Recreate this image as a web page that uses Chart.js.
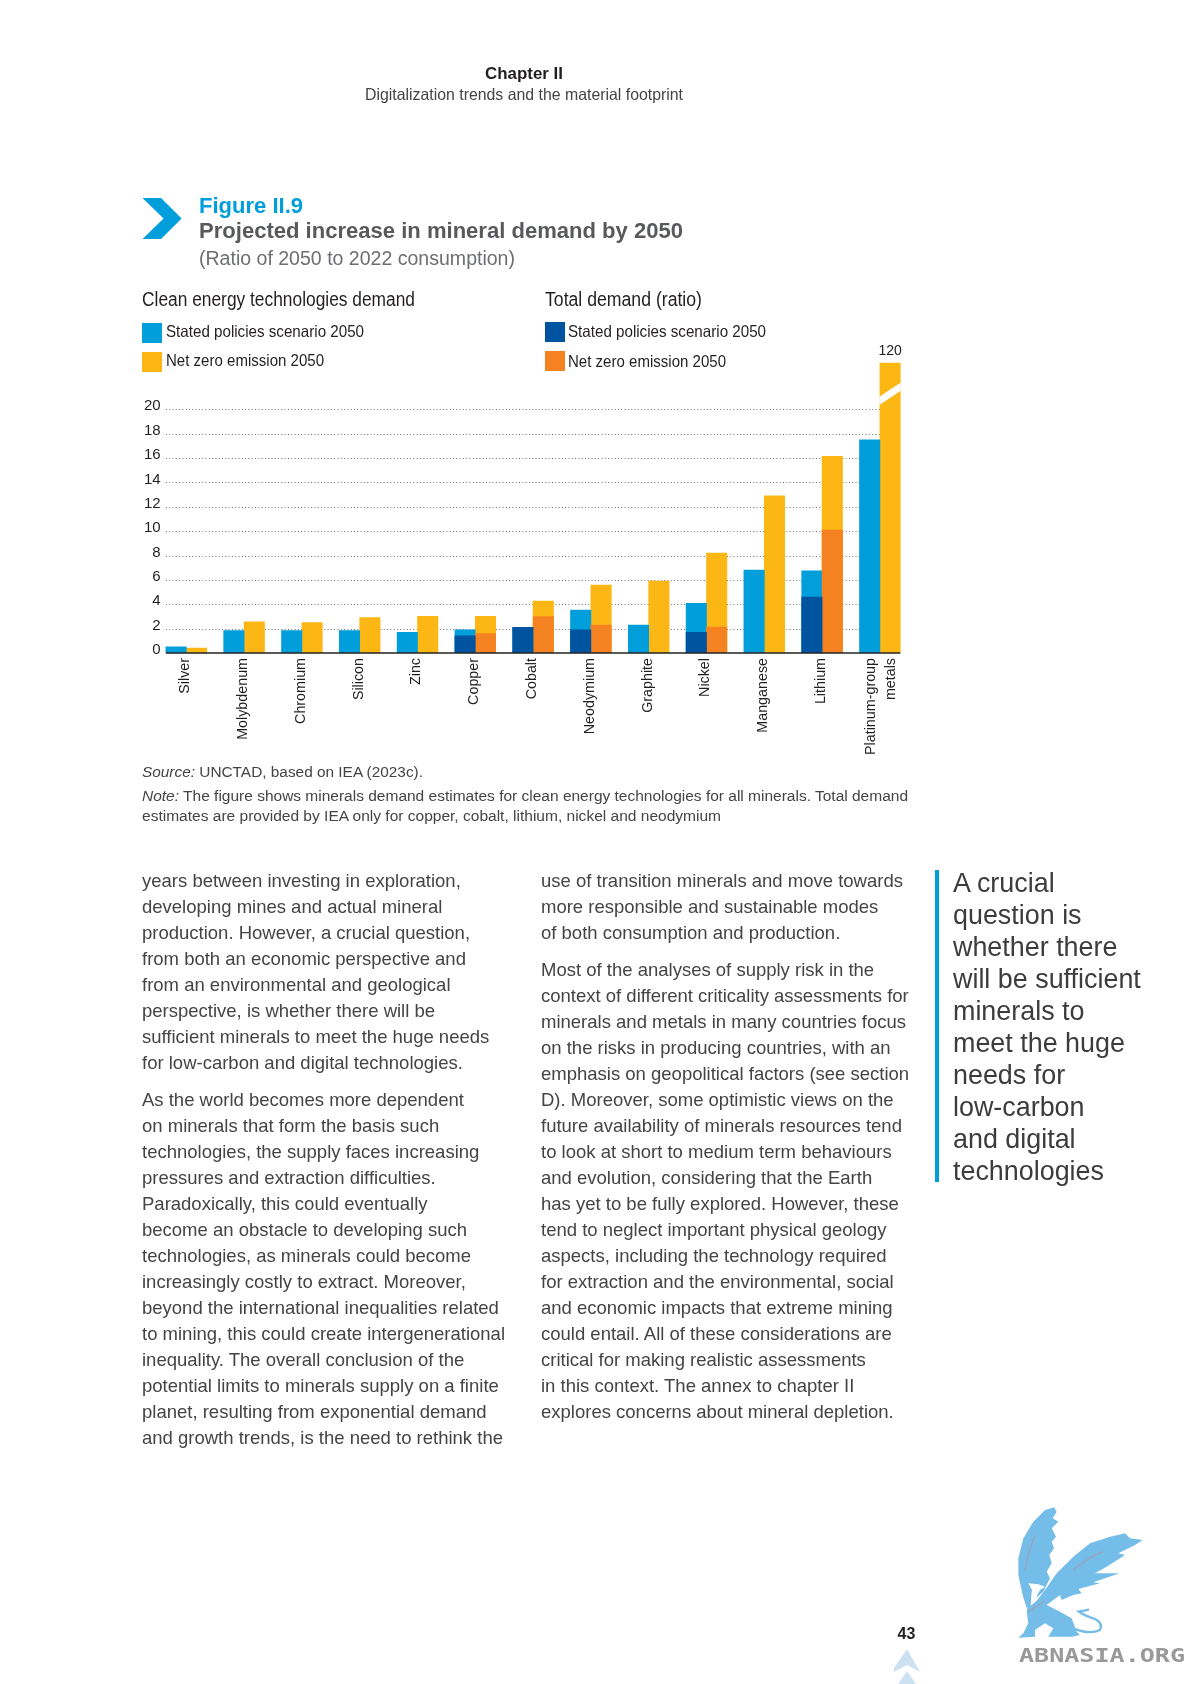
<!DOCTYPE html>
<html><head><meta charset="utf-8">
<script src="https://cdn.jsdelivr.net/npm/chart.js@4"></script>
<style>
html,body{margin:0;padding:0;background:#fff;width:1191px;height:1684px;overflow:hidden}
#page{position:relative;width:1191px;height:1684px;font-family:"Liberation Sans",Arial,sans-serif}
#c{position:absolute;left:0;top:0;width:1191px;height:1684px}
.t{position:absolute;white-space:nowrap;line-height:1;transform-origin:left center}
.s{position:absolute}
</style></head><body>
<div id="page">
<canvas id="c" width="1191" height="1684"></canvas>
<svg class="s" style="left:0;top:0" width="1191" height="1684">
<polygon points="142.5,198 161,198 181.6,218.5 161,239 142.5,239 163.6,218.5" fill="#009edb"/>
<g transform="translate(1010 1495) scale(.33333)">
<g fill="#74bde8">
<polygon points="132,37 140,50 128,70 145,80 125,100 138,125 125,140 132,160 118,180 125,205 110,230 120,250 100,290 65,320 50,340 38,300 25,240 25,190 40,130 70,80 105,45"/>
<polygon points="398,135 360,130 345,115 300,125 240,145 190,185 140,235 105,285 70,330 50,350 110,330 150,300 155,315 190,300 215,295 205,282 270,265 250,262 285,250 328,235 255,235 290,215 345,180 325,175 375,150"/>
<polygon points="75,320 100,320 110,330 150,350 185,370 200,410 210,420 185,425 115,425 130,400 105,385 75,405 75,425 25,428 40,415 55,385 50,350 55,325"/>
<path d="M190 400 Q240 420 270 405 Q280 385 255 372 Q225 362 207 350 L237 344" fill="none" stroke="#74bde8" stroke-width="7"/>
</g>
<polygon points="55,265 85,268 105,275 90,285 82,300 75,322 62,332 64,300 66,285" fill="#fff"/>
<g fill="none" stroke="#9aa3bd" stroke-width="4">
<path d="M75 120 Q55 170 45 225"/><path d="M280 170 Q230 190 190 225"/><path d="M105 318 L55 350"/>
</g>
</g>
<g fill="#cde1f3">
<polygon points="907,1649 920,1672 907,1665 894,1672 894,1668"/>
<polygon points="907,1671 920,1690 894,1690"/>
</g>
<rect x="935" y="870" width="4" height="312" fill="#009edb"/>
<rect x="142" y="323" width="20" height="20" fill="#009edb"/>
<rect x="142" y="352" width="20" height="20" fill="#fdb714"/>
<rect x="545" y="322" width="20" height="20" fill="#00539f"/>
<rect x="545" y="351" width="20" height="20" fill="#f58220"/>
</svg>
</div>
<script>
const categories=["Silver","Molybdenum","Chromium","Silicon","Zinc","Copper","Cobalt","Neodymium","Graphite","Nickel","Manganese","Lithium",["Platinum-group","metals"]];
const cleanStated=[0.5,1.85,1.85,1.85,1.7,1.9,2.1,3.53,2.3,4.08,6.8,6.75,17.5];
const totalStated=[null,null,null,null,null,1.4,2.1,1.9,null,1.7,null,4.6,null];
const cleanNetZero=[0.4,2.55,2.5,2.9,3.0,3.0,4.27,5.58,5.9,8.2,12.9,16.15,120];
const totalNetZero=[null,null,null,null,null,1.6,2.98,2.3,null,2.13,null,10.1,null];
const yTickMax=20, yStep=2, yTopShown=23.83;
const bodyCol1a=["years between investing in exploration,","developing mines and actual mineral","production. However, a crucial question,","from both an economic perspective and","from an environmental and geological","perspective, is whether there will be","sufficient minerals to meet the huge needs","for low-carbon and digital technologies."];
const bodyCol1b=["As the world becomes more dependent","on minerals that form the basis such","technologies, the supply faces increasing","pressures and extraction difficulties.","Paradoxically, this could eventually","become an obstacle to developing such","technologies, as minerals could become","increasingly costly to extract. Moreover,","beyond the international inequalities related","to mining, this could create intergenerational","inequality. The overall conclusion of the","potential limits to minerals supply on a finite","planet, resulting from exponential demand","and growth trends, is the need to rethink the"];
const bodyCol2a=["use of transition minerals and move towards","more responsible and sustainable modes","of both consumption and production."];
const bodyCol2b=["Most of the analyses of supply risk in the","context of different criticality assessments for","minerals and metals in many countries focus","on the risks in producing countries, with an","emphasis on geopolitical factors (see section","D). Moreover, some optimistic views on the","future availability of minerals resources tend","to look at short to medium term behaviours","and evolution, considering that the Earth","has yet to be fully explored. However, these","tend to neglect important physical geology","aspects, including the technology required","for extraction and the environmental, social","and economic impacts that extreme mining","could entail. All of these considerations are","critical for making realistic assessments","in this context. The annex to chapter II","explores concerns about mineral depletion."];
const sidebar=["A crucial","question is","whether there","will be sufficient","minerals to","meet the huge","needs for","low-carbon","and digital","technologies"];

const page=document.getElementById('page');
function t(x,yc,str,size,color,o){o=o||{};
 const e=document.createElement('div');e.className='t';
 if(o.html)e.innerHTML=str;else e.textContent=str;
 e.style.left=x+'px';e.style.top=(yc-size/2)+'px';e.style.fontSize=size+'px';e.style.color=color;
 if(o.weight)e.style.fontWeight=o.weight;
 if(o.family)e.style.fontFamily=o.family;
 page.appendChild(e);
 if(o.w){const m=e.getBoundingClientRect().width;e.style.transform='scaleX('+(o.w/m)+')';}
 return e;}
t(485,73.5,"Chapter II",16.5,"#231f20",{weight:700,w:78});
t(365,94.5,"Digitalization trends and the material footprint",16.5,"#444",{w:318});
t(199,205.5,"Figure II.9",22,"#009edb",{weight:700,w:104});
t(199,231,"Projected increase in mineral demand by 2050",22.5,"#58595b",{weight:700,w:484});
t(199,258,"(Ratio of 2050 to 2022 consumption)",20,"#6d6e71",{w:316});
t(142,299.5,"Clean energy technologies demand",19.5,"#231f20",{w:273});
t(545,299.5,"Total demand (ratio)",19.5,"#231f20",{w:157});
t(166,331.5,"Stated policies scenario 2050",16.5,"#231f20",{w:198});
t(166,360.5,"Net zero emission 2050",16.5,"#231f20",{w:158});
t(568,331.5,"Stated policies scenario 2050",16.5,"#231f20",{w:198});
t(568,361.5,"Net zero emission 2050",16.5,"#231f20",{w:158});
t(142,771.5,"<i>Source:</i> UNCTAD, based on IEA (2023c).",15.5,"#444",{html:true,w:281});
t(142,796,"<i>Note:</i> The figure shows minerals demand estimates for clean energy technologies for all minerals. Total demand",15.5,"#444",{html:true,w:766});
t(142,816,"estimates are provided by IEA only for copper, cobalt, lithium, nickel and neodymium",15.5,"#444",{w:579});
function block(x,y0,lines,size,lh,color){lines.forEach((l,i)=>t(x,y0+i*lh,l,size,color));}
block(142,881.5,bodyCol1a,18.5,26,"#444");
block(142,1100.5,bodyCol1b,18.5,26,"#444");
block(541,881.5,bodyCol2a,18.5,26,"#444");
block(541,970,bodyCol2b,18.5,26,"#444");
block(953,883,sidebar,26.9,32,"#3c3c3c");
t(897.5,1634,"43",16,"#231f20",{weight:700});
t(1019,1655,"ABNASIA.ORG",20,"#999",{weight:700,family:"'DejaVu Sans Mono',monospace",w:166});

const overlay={id:'overlay',
 beforeDatasetsDraw(ch){const c=ch.ctx,y=ch.scales.y,x=ch.scales.x;
  const bar=ch.getDatasetMeta(0).data[0],l=bar.x-bar.width/2,r=x.getPixelForValue(12);
  c.save();c.strokeStyle='#6f6f6f';c.lineWidth=1;c.setLineDash([1,2.3]);
  y.ticks.forEach(k=>{if(k.value===0)return;const p=Math.round(y.getPixelForValue(k.value))+.5;c.beginPath();c.moveTo(l,p);c.lineTo(r,p);c.stroke();});
  c.restore();},
 afterDatasetsDraw(ch){const c=ch.ctx,y=ch.scales.y,x=ch.scales.x;
  const bar=ch.getDatasetMeta(2).data[12],bl=bar.x-bar.width/2,br=bar.x+bar.width/2;
  c.save();c.fillStyle='#fff';c.beginPath();
  c.moveTo(bl-.5,y.getPixelForValue(21.04));c.lineTo(br+.5,y.getPixelForValue(22.2));
  c.lineTo(br+.5,y.getPixelForValue(21.53));c.lineTo(bl-.5,y.getPixelForValue(20.36));c.closePath();c.fill();
  const f=ch.getDatasetMeta(0).data[0],l=f.x-f.width/2,z=y.getPixelForValue(0);
  c.strokeStyle='#222';c.lineWidth=1.6;c.beginPath();c.moveTo(l,z);c.lineTo(br,z);c.stroke();
  c.fillStyle='#231f20';c.font='14px "Liberation Sans"';c.textAlign='center';c.textBaseline='middle';
  c.fillText(String(cleanNetZero[12]),bar.x,351);
  c.restore();}
};
const base={barThickness:20.4,borderWidth:0};
new Chart(document.getElementById('c'),{type:'bar',
 data:{labels:categories,datasets:[
  {...base,label:'Clean energy: Stated policies scenario 2050',data:cleanStated,backgroundColor:'#009edb',stack:'a',order:2},
  {...base,label:'Total demand: Stated policies scenario 2050',data:totalStated,backgroundColor:'#00539f',stack:'a',order:0},
  {...base,label:'Clean energy: Net zero emission 2050',data:cleanNetZero,backgroundColor:'#fdb714',stack:'b',order:3},
  {...base,label:'Total demand: Net zero emission 2050',data:totalNetZero,backgroundColor:'#f58220',stack:'b',order:1}]},
 options:{responsive:false,animation:false,devicePixelRatio:1,
  layout:{padding:{left:157.4,right:282.2,top:362.7,bottom:0}},
  plugins:{legend:{display:false},tooltip:{enabled:false},title:{display:false}},
  scales:{
   x:{grid:{display:false,drawTicks:false},border:{display:false},
      afterFit(s){s.height=1031;
        if(!s._twoLinePatched){s._twoLinePatched=true;const orig=s.getPixelForTick.bind(s);
          s.getPixelForTick=i=>orig(i)+(Array.isArray(categories[i])?-8.2:0);}},
      ticks:{autoSkip:false,minRotation:90,maxRotation:90,padding:5,labelOffset:-1,color:'#231f20',font:{size:14.3,family:'"Liberation Sans"',lineHeight:1.45}}},
   y:{position:{x:-0.443},stacked:false,min:0,max:yTopShown,grid:{display:false,drawTicks:false},border:{display:false},
      afterBuildTicks(s){s.ticks=s.ticks.filter(k=>k.value<=yTickMax);},
      ticks:{stepSize:yStep,color:'#231f20',callback:v=>[String(v),''],font:{size:15,family:'"Liberation Sans"',lineHeight:0.4}}}
  }},
 plugins:[overlay]});
</script>
</body></html>
